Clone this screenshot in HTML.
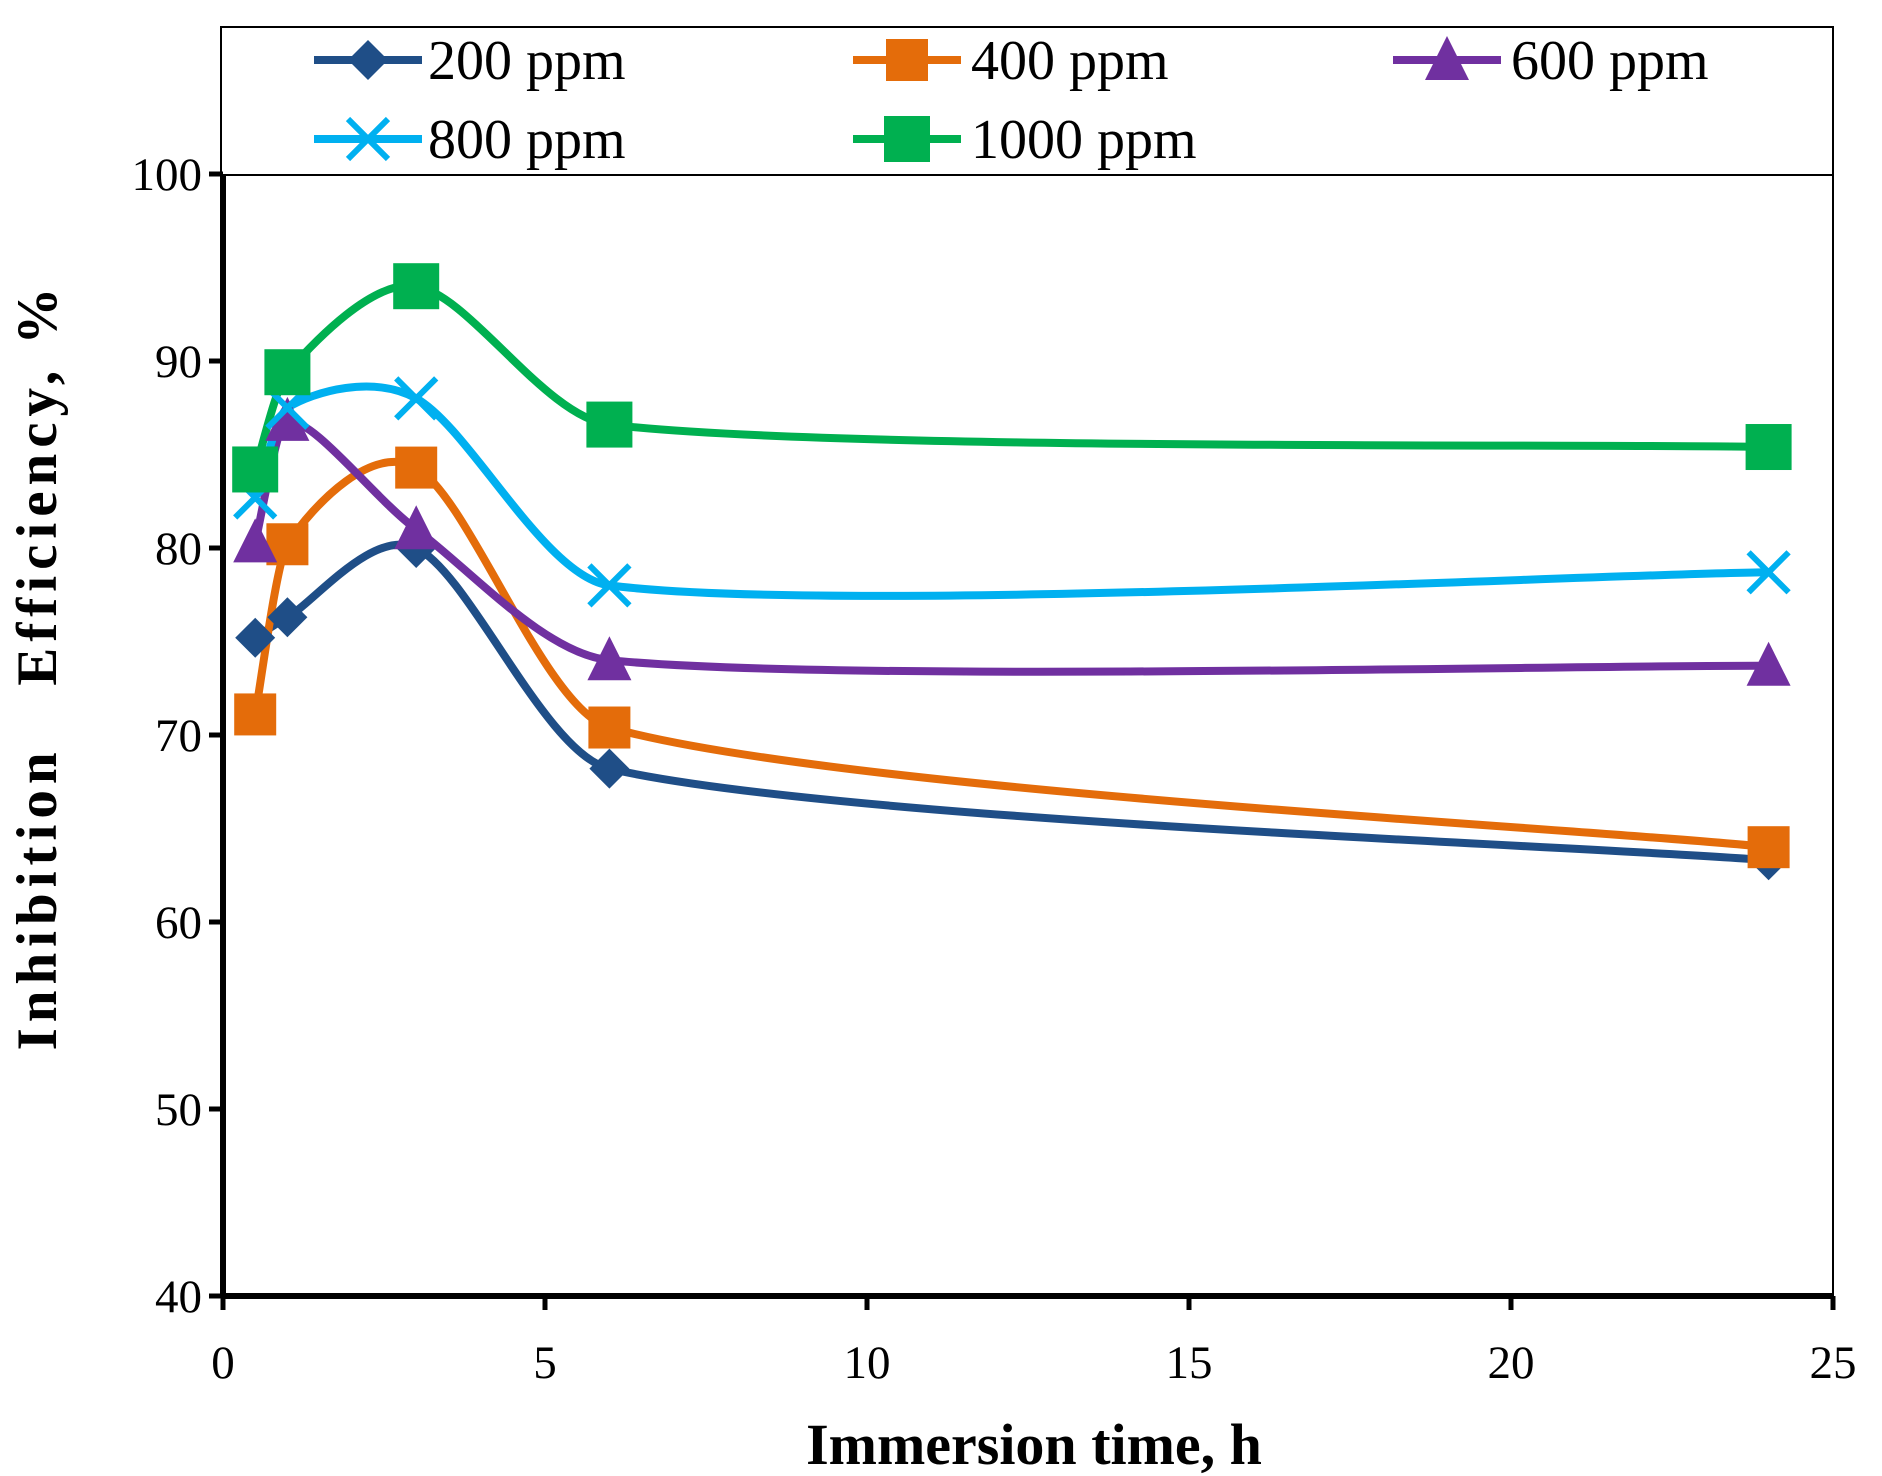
<!DOCTYPE html>
<html><head><meta charset="utf-8"><style>
html,body{margin:0;padding:0;background:#fff;width:1882px;height:1476px;overflow:hidden}
svg{display:block;font-family:"Liberation Serif",serif}
</style></head><body>
<svg id="s" width="1882" height="1476" viewBox="0 0 1882 1476" xmlns="http://www.w3.org/2000/svg">
<rect x="221" y="27" width="1612" height="148" fill="#fff" stroke="#000" stroke-width="2"/>
<rect x="223" y="175" width="1610" height="1121" fill="#fff" stroke="#000" stroke-width="2"/>
<g id="ticks"></g>
<g id="series"></g>
<g font-size="56" fill="#000">
<text x="428" y="79">200 ppm</text>
<text x="971" y="79">400 ppm</text>
<text x="1511" y="79">600 ppm</text>
<text x="428" y="158">800 ppm</text>
<text x="971" y="158">1000 ppm</text>
</g>
<text x="1034" y="1464" font-size="58" font-weight="bold" text-anchor="middle">Immersion time, h</text>
<text transform="translate(56,666) rotate(-90)" font-size="57" font-weight="bold" text-anchor="middle" letter-spacing="6" xml:space="preserve">Inhibition   Efficiency, %</text>
<g id="leg"></g>
</svg>
<script>
const NS="http://www.w3.org/2000/svg";
const X=v=>223+v*64.4, Y=v=>1296-(v-40)*18.7;
function el(p,t,a){const e=document.createElementNS(NS,t);for(const k in a)e.setAttribute(k,a[k]);p.appendChild(e);return e;}
const tk=document.getElementById('ticks');
el(tk,'line',{x1:223,y1:175,x2:223,y2:1296,stroke:'#000','stroke-width':6});
el(tk,'line',{x1:223,y1:1296,x2:1833,y2:1296,stroke:'#000','stroke-width':6});
for(let v=40;v<=100;v+=10){const y=Y(v);el(tk,'line',{x1:209,y1:y,x2:223,y2:y,stroke:'#000','stroke-width':5});
 const t=el(tk,'text',{x:202,y:y+16,'font-size':47,'text-anchor':'end'});t.textContent=v;}
for(let v=0;v<=25;v+=5){const x=X(v);el(tk,'line',{x1:x,y1:1296,x2:x,y2:1310,stroke:'#000','stroke-width':5});
 const t=el(tk,'text',{x:x,y:1378,'font-size':47,'text-anchor':'middle'});t.textContent=v;}
const xs=[0.5,1,3,6,24];
const S=[
 {c:'#1F4E87',m:'d',v:[75.2,76.3,80,68.2,63.3]},
 {c:'#E46C0A',m:'s',v:[71.1,80.2,84.3,70.4,64]},
 {c:'#7030A0',m:'t',v:[80.3,86.8,81,74,73.7]},
 {c:'#00B0F0',m:'x',v:[82.7,87.5,88,78,78.7]},
 {c:'#00B050',m:'S',v:[84.2,89.4,94,86.6,85.4]}];
function marker(g,m,x,y,c){
 if(m=='d')el(g,'polygon',{points:`${x},${y-20} ${x+20},${y} ${x},${y+20} ${x-20},${y}`,fill:c});
 else if(m=='s')el(g,'rect',{x:x-21,y:y-21,width:42,height:42,fill:c});
 else if(m=='S')el(g,'rect',{x:x-23,y:y-23,width:46,height:46,fill:c});
 else if(m=='t')el(g,'polygon',{points:`${x},${y-24} ${x+22},${y+20} ${x-22},${y+20}`,fill:c});
 else {el(g,'path',{d:`M${x-20},${y-20}L${x+20},${y+20}M${x+20},${y-20}L${x-20},${y+20}`,stroke:c,'stroke-width':6});}
}
const sg=document.getElementById('series');
S.forEach(s=>{
 const P=xs.map((x,i)=>[X(x),Y(s.v[i])]);
 const n=P.length;
 const m=P.map((p,i)=>{const a=P[Math.max(0,i-1)],b=P[Math.min(n-1,i+1)];return (b[1]-a[1])/(b[0]-a[0]);});
 const ex=P.map((p,i)=>(P[Math.min(n-1,i+1)][0]-P[Math.max(0,i-1)][0])/6);
 let d=`M${P[0][0]},${P[0][1]}`;
 for(let i=0;i<n-1;i++){
  const p1=P[i],p2=P[i+1],seg=(p2[0]-p1[0])/3;
  const h1=Math.min(seg,ex[i]),h2=Math.min(seg,ex[i+1]);
  d+=`C${p1[0]+h1},${p1[1]+m[i]*h1} ${p2[0]-h2},${p2[1]-m[i+1]*h2} ${p2[0]},${p2[1]}`;
 }
 el(sg,'path',{d:d,fill:'none',stroke:s.c,'stroke-width':8});
});
S.forEach(s=>{xs.forEach((x,i)=>marker(sg,s.m,X(x),Y(s.v[i]),s.c));});
const lg=document.getElementById('leg');
const L=[[314,60,0],[853,60,1],[1393,60,2],[314,139,3],[853,139,4]];
L.forEach(([x,y,i])=>{const s=S[i];el(lg,'line',{x1:x,y1:y,x2:x+108,y2:y,stroke:s.c,'stroke-width':8});marker(lg,s.m,x+54,y,s.c);});
</script>
</body></html>
